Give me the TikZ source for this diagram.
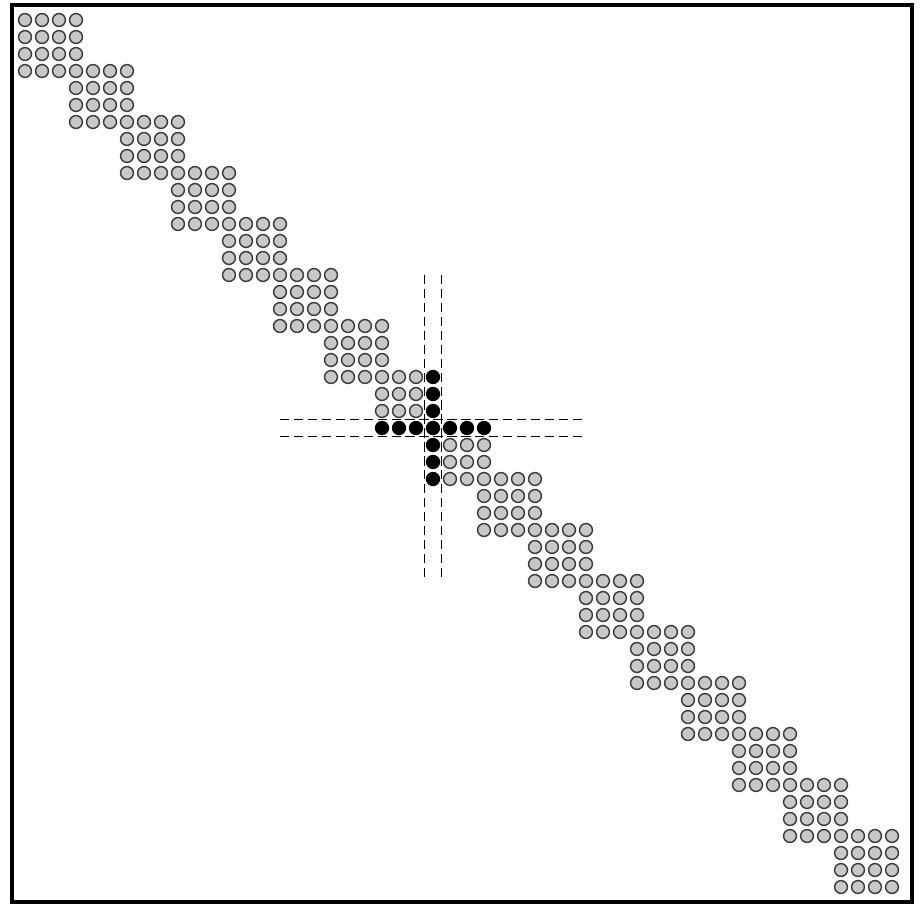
\documentclass[tikz,border=0pt]{standalone}
\usetikzlibrary{calc}
\definecolor{dotfill}{RGB}{200,200,200}
\definecolor{dotline}{RGB}{60,60,60}

\begin{document}
\begin{tikzpicture}[x=0.45cm, y=-0.45cm]
  \tikzset{
    dot/.style={
      circle,
      draw=dotline,
      line width=1.1pt,
      fill=dotfill,
      inner sep=0pt,
      minimum size=0.34cm
    },
    hotdot/.style={
      circle,
      draw=black,
      line width=1.1pt,
      fill=black,
      inner sep=0pt,
      minimum size=0.34cm
    },
    guide/.style={
      black,
      line width=1.4pt,
      dash pattern=on 7pt off 3.5pt
    }
  }

  % page and frame
  \useasboundingbox (-1.4706,-1.1765) rectangle (52.882,52.118);
  \draw[line width=3pt] (-0.765,-0.882) rectangle (52.176,51.88);

  % the 4x4 blocks, each sharing one row and column with the next
  \foreach \k in {0,...,16}
    \foreach \i in {0,...,3}
      \foreach \j in {0,...,3} {
        \pgfmathtruncatemacro{\r}{3*\k+\i}
        \pgfmathtruncatemacro{\c}{3*\k+\j}
        \pgfmathtruncatemacro{\dup}{(\k>0)&&(\i==0)&&(\j==0)}
        \pgfmathtruncatemacro{\hot}{(\r==24)||(\c==24)}
        \def\sty{dot}
        \ifnum\hot=1 \def\sty{hotdot}\fi
        \ifnum\dup=0
          \node[\sty] (d-\r-\c) at (\c,\r) {};
        \fi
      }

  % dashed guides round row 24 and column 24
  \coordinate (vtl) at ($(d-24-24.center)+(-0.5,-9)$);
  \coordinate (vbl) at ($(d-24-24.center)+(-0.5,9)$);
  \coordinate (vtr) at ($(d-24-24.center)+(0.5,-9)$);
  \coordinate (vbr) at ($(d-24-24.center)+(0.5,9)$);
  \coordinate (hlt) at ($(d-24-24.center)+(-9,-0.5)$);
  \coordinate (hrt) at ($(d-24-24.center)+(9,-0.5)$);
  \coordinate (hlb) at ($(d-24-24.center)+(-9,0.5)$);
  \coordinate (hrb) at ($(d-24-24.center)+(9,0.5)$);
  \draw[guide] (vtl) -- (vbl);
  \draw[guide] (vtr) -- (vbr);
  \draw[guide] (hlt) -- (hrt);
  \draw[guide] (hlb) -- (hrb);

\end{tikzpicture}
\end{document}
